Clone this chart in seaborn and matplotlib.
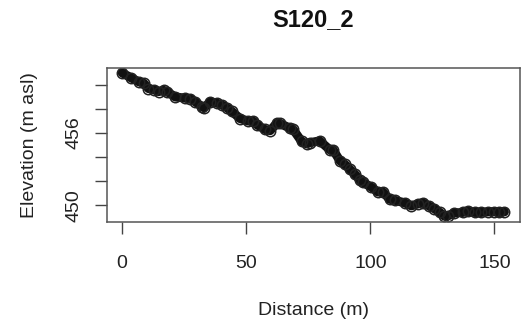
import pandas as pd
import seaborn as sns
import matplotlib
matplotlib.use('Agg')
import matplotlib.pyplot as plt

sns.set_theme(style="white")
plt.rcParams['font.family'] = ['Liberation Sans', 'DejaVu Sans']

# profile S120_2
distance = [0, 3.5, 6.6, 8.7, 10.6, 12.7, 14.7, 16.7, 18, 21.4, 25.4, 27.4, 29.4,
            32.1, 33, 35.5, 38, 40.1, 42.2, 44.2, 47.5, 50.8, 52.8, 54.2, 57.5,
            59.6, 62.2, 63.6, 67.6, 68.9, 72.3, 74.3, 75.6, 79.6, 83.7, 85, 87.7,
            89.7, 91.7, 93.7, 95.7, 97, 100.4, 103, 105.1, 107.7, 110, 113.8,
            116.5, 119, 121.1, 123.5, 125.8, 128, 129.8, 131.1, 133.8, 137.2,
            139.2, 142, 144.6, 147.5, 150, 152, 154]
elevation = [461.0, 460.6, 460.27, 460.14, 459.7, 459.6, 459.45, 459.55, 459.45,
             459.0, 458.9, 458.85, 458.6, 458.2, 458.1, 458.6, 458.5, 458.35,
             458.1, 457.8, 457.2, 457.0, 457.0, 456.7, 456.3, 456.2, 456.8,
             456.8, 456.4, 456.3, 455.3, 455.1, 455.2, 455.35, 454.6, 454.6,
             453.7, 453.4, 453.0, 452.6, 452.1, 451.9, 451.5, 451.1, 451.1,
             450.5, 450.4, 450.2, 449.95, 450.1, 450.2, 449.95, 449.7, 449.4,
             449.1, 449.1, 449.35, 449.4, 449.5, 449.4, 449.4, 449.45, 449.45,
             449.4, 449.45]
x_ticks = [0, 50, 100, 150]
y_ticks = [450, 452, 454, 456, 458, 460]
y_labels = ['450', '', '', '456', '', '']

df = pd.DataFrame({'d': distance, 'z': elevation})

fig = plt.figure(figsize=(5.24, 3.29), dpi=100)
ax = fig.add_axes([0.204, 0.325, 0.788, 0.468])

sns.lineplot(data=df, x='d', y='z', ax=ax, color='#111111', linewidth=6.5,
             solid_capstyle='round', solid_joinstyle='round')
ax.plot(df['d'], df['z'], linestyle='none', marker='o', markersize=7.5,
        markerfacecolor='none', markeredgecolor='#222222', markeredgewidth=1.1)

ax.set_xlim(-6.16, 160.2)
ax.set_ylim(448.6, 461.4)
ax.set_xticks(x_ticks)
ax.set_yticks(y_ticks)
ax.set_yticklabels(y_labels, rotation=90, va='center')

ax.tick_params(axis='both', direction='out', length=8.5, width=1,
               color='#444444', labelsize=14, labelcolor='#222222',
               bottom=True, left=True)
ax.tick_params(axis='x', pad=15)
ax.tick_params(axis='y', pad=9)
for s in ax.spines.values():
    s.set_color('#555555')
    s.set_linewidth(1.1)

ax.set_xlabel('Distance (m)', fontsize=14, color='#222222', labelpad=22)
ax.set_ylabel('Elevation (m asl)', fontsize=14, color='#222222', labelpad=20)
ax.set_title('S120_2', fontsize=17, fontweight='bold', color='#111111', pad=30)

plt.savefig('out.png', dpi=100)
